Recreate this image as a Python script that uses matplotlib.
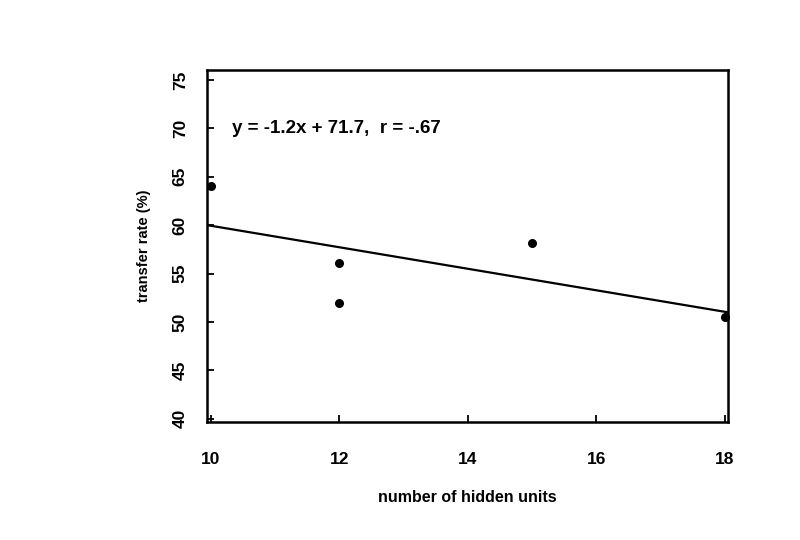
import numpy as np
import matplotlib
matplotlib.use('Agg')
import matplotlib.pyplot as plt

plt.rcParams['font.family'] = ['Liberation Sans', 'DejaVu Sans']

# hidden units vs transfer rate
hidden_units = [10, 12, 12, 15, 18]
transfer_rate = [64.0, 56.1, 52.0, 58.2, 50.5]
x_ticks = [10, 12, 14, 16, 18]
y_ticks = [40, 45, 50, 55, 60, 65, 70, 75]
note = 'y = -1.2x + 71.7,  r = -.67'

fig = plt.figure(figsize=(8, 5.4), dpi=100)
ax = fig.add_axes([0.259, 0.219, 0.651, 0.651])

x0, x1 = 9.94, 18.05
ax.set_xlim(x0, x1)
ax.set_ylim(39.7, 76.0)

# regression line across the whole box
k, b = np.polyfit(hidden_units, transfer_rate, 1)
lx = np.array([x0, x1])
ax.plot(lx, k * lx + b, color='black', lw=1.6, zorder=1)
ax.scatter(hidden_units, transfer_rate, s=30, color='black', zorder=2, clip_on=False)

ax.text(10.33, 70, note, fontsize=13.5, fontweight='bold', va='center', ha='left')

ax.set_xticks(x_ticks)
ax.set_yticks(y_ticks)
ax.tick_params(direction='in', length=5, width=1.3, labelsize=12.5)
ax.tick_params(axis='x', pad=22)
ax.tick_params(axis='y', pad=14)
ax.tick_params(top=False, right=False)
for lab in ax.get_xticklabels() + ax.get_yticklabels():
    lab.set_fontweight('bold')
for lab in ax.get_yticklabels():
    lab.set_rotation(90)
    lab.set_va('center')
for s in ax.spines.values():
    s.set_linewidth(1.8)

ax.set_xlabel('number of hidden units', fontsize=11.5, fontweight='bold', labelpad=16)
ax.set_ylabel('transfer rate (%)', fontsize=10.5, fontweight='bold', labelpad=16)

fig.savefig('out.png', dpi=100)
